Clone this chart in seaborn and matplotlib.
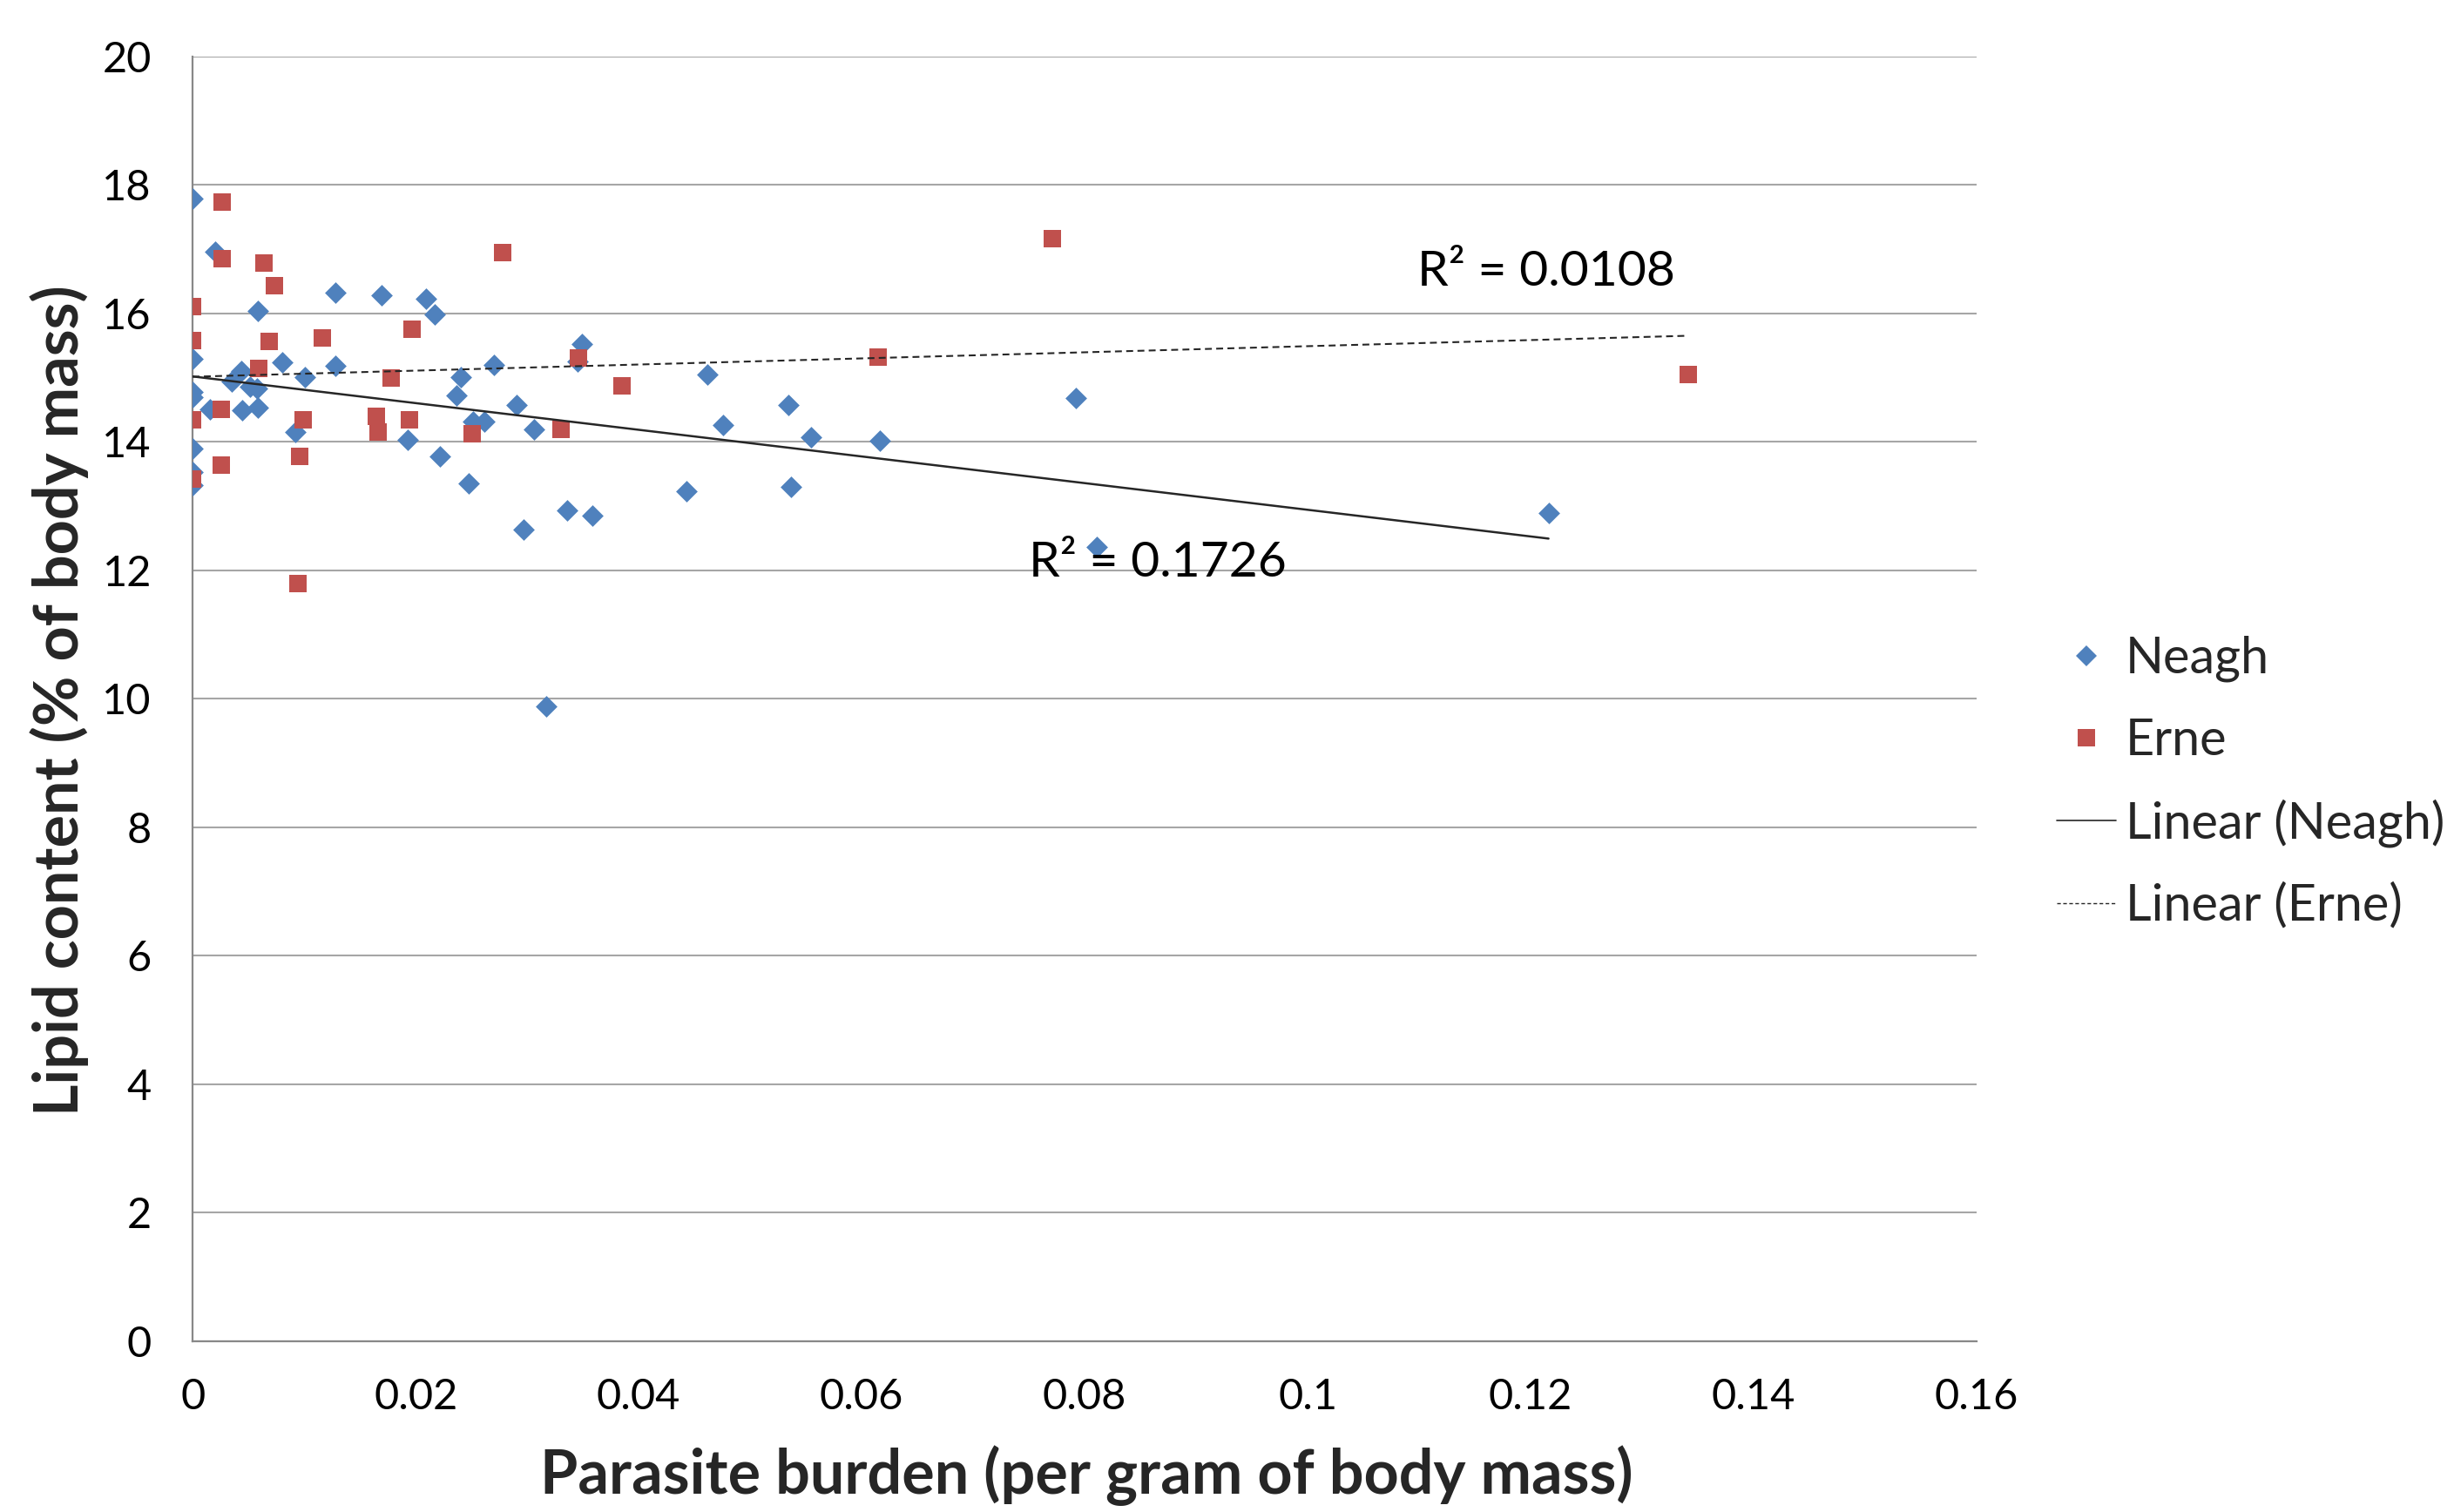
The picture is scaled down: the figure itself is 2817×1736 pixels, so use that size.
import numpy as np
import pandas as pd
import matplotlib
matplotlib.use("Agg")
import matplotlib.pyplot as plt
from matplotlib.ticker import FuncFormatter, MultipleLocator
from matplotlib.lines import Line2D
import seaborn as sns

# ---------------- data ----------------
neagh_x = [0, 0.0020, 0.00586, 0.01284, 0.01693, 0.02089, 0.02174, 0, 0.00435, 0.0080,
           0.01284, 0.02703, 0.00352, 0.00513, 0.00578, 0.0101, 0.02409, 0, 0, 0.02365,
           0.02904, 0.00156, 0.00443, 0.00586, 0.02513, 0.02617, 0.0306, 0.00924, 0, 0.01932,
           0.02214, 0, 0, 0.02479, 0.0297, 0.0336, 0.03586, 0.03169, 0.03495, 0.0345,
           0.04615, 0.04758, 0.05344, 0.05547, 0.06164, 0.04432, 0.0537, 0.07922, 0.0811, 0.1216]
neagh_y = [17.79, 16.96, 16.04, 16.33, 16.28, 16.23, 15.99, 15.30, 15.11, 15.24,
           15.18, 15.20, 14.94, 14.86, 14.83, 15.01, 15.01, 14.78, 14.70, 14.73,
           14.58, 14.51, 14.50, 14.54, 14.32, 14.32, 14.19, 14.16, 13.90, 14.04,
           13.77, 13.53, 13.33, 13.35, 12.64, 12.94, 12.85, 9.89, 15.53, 15.25,
           15.05, 14.26, 14.58, 14.08, 14.02, 13.23, 13.30, 14.68, 12.36, 12.90]

erne_x = [0.00266, 0.00266, 0.00643, 0.00734, 0, 0, 0.0069, 0.01164, 0.01966, 0.02781,
          0.00591, 0.01784, 0.00253, 0, 0.00995, 0.01648, 0.01661, 0.01945, 0.02508, 0.0330,
          0.0026, 0.00956, 0, 0.00943, 0.03461, 0.03849, 0.06151, 0.07707, 0.1341]
erne_y = [17.73, 16.86, 16.79, 16.43, 16.11, 15.58, 15.56, 15.62, 15.75, 16.95,
          15.15, 15.00, 14.51, 14.34, 14.35, 14.40, 14.16, 14.34, 14.13, 14.19,
          13.64, 13.77, 13.42, 11.79, 15.31, 14.88, 15.32, 17.17, 15.05]

series_names = ["Neagh", "Erne"]
r2_labels = ["R\u00b2 = 0.1726", "R\u00b2 = 0.0108"]
x_label = "Parasite burden (per gram of body mass)"
y_label = "Lipid content (% of body mass)"

neagh = pd.DataFrame({"x": neagh_x, "y": neagh_y})
erne = pd.DataFrame({"x": erne_x, "y": erne_y})

# ---------------- style ----------------
sns.set_theme(style="white")
plt.rcParams["font.family"] = ["Lato", "DejaVu Sans"]

BLUE = "#4F81BD"
RED = "#C0504D"
AXC = "#888888"
GRIDC = "#A6A6A6"

fig = plt.figure(figsize=(28.17, 17.36), dpi=100)
ax = fig.add_axes([0.0785, 0.1129, 0.727, 0.8497])

# scatter points
sns.scatterplot(data=neagh, x="x", y="y", marker="D", s=160, color=BLUE,
                linewidth=0, ax=ax, zorder=3, legend=False)
sns.scatterplot(data=erne, x="x", y="y", marker="s", s=205, color=RED,
                linewidth=0, ax=ax, zorder=3, legend=False)

# linear trend lines
sns.regplot(data=neagh, x="x", y="y", scatter=False, ci=None, truncate=True, ax=ax,
            line_kws=dict(color="#262626", lw=1.8, zorder=4))
sns.regplot(data=erne, x="x", y="y", scatter=False, ci=None, truncate=True, ax=ax,
            line_kws=dict(color="#262626", lw=1.5, dashes=(3.8, 2.4), zorder=4))

# R^2 annotations
ax.text(0.0750, 11.905, r2_labels[0], fontsize=41, color="black", va="baseline", ha="left", zorder=5)
ax.text(0.1098, 16.43, r2_labels[1], fontsize=41, color="black", va="baseline", ha="left", zorder=5)

# axes
ax.set_xlim(0, 0.16)
ax.set_ylim(0, 20)
ax.xaxis.set_major_locator(MultipleLocator(0.02))
ax.yaxis.set_major_locator(MultipleLocator(2))
ax.xaxis.set_major_formatter(FuncFormatter(lambda v, p: f"{round(v, 4):g}"))
ax.yaxis.set_major_formatter(FuncFormatter(lambda v, p: f"{v:g}"))
ax.grid(axis="y", color=GRIDC, lw=1.5)
ax.grid(axis="x", visible=False)
ax.set_axisbelow(True)
for side in ["top", "right"]:
    ax.spines[side].set_visible(False)
for side in ["left", "bottom"]:
    ax.spines[side].set_color(AXC)
    ax.spines[side].set_linewidth(1.6)
ax.tick_params(axis="both", which="major", direction="out", length=12, width=1.5,
               color=AXC, labelsize=35, labelcolor="black")
ax.tick_params(axis="y", pad=22)
ax.tick_params(axis="x", pad=18)

ax.set_xlabel(x_label, fontsize=50.5, fontweight="bold", va="center")
ax.set_ylabel(y_label, fontsize=50.5, fontweight="bold", va="center")
ax.xaxis.set_label_coords(0.501, -0.1044)
ax.yaxis.set_label_coords(-0.0747, 0.499)

# legend
handles = [
    Line2D([], [], marker="D", color=BLUE, ls="none", markersize=12.5, markeredgewidth=0),
    Line2D([], [], marker="s", color=RED, ls="none", markersize=14.4, markeredgewidth=0),
    Line2D([], [], color="#262626", lw=1.2),
    Line2D([], [], color="#262626", lw=1.0, dashes=(3, 2)),
]
labels = [series_names[0], series_names[1],
          f"Linear ({series_names[0]})", f"Linear ({series_names[1]})"]
fig.legend(handles, labels, loc="center left", bbox_to_anchor=(0.838, 0.4825),
           frameon=False, fontsize=41.5, handlelength=1.19, handletextpad=0.19,
           labelspacing=0.70, borderpad=0, borderaxespad=0)

fig.savefig("out.png", dpi=100)
